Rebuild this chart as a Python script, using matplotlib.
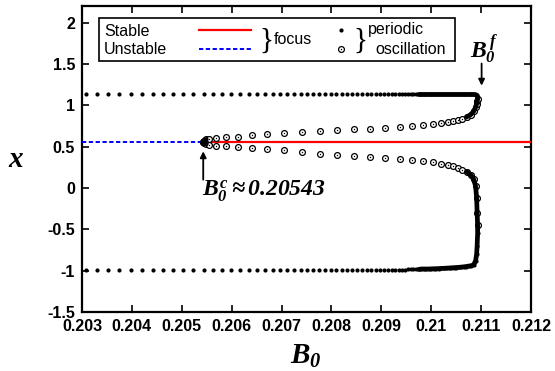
import matplotlib
matplotlib.use('Agg')
import matplotlib.pyplot as plt
from matplotlib.patches import Rectangle

plt.rcParams['font.family'] = ['Liberation Sans', 'DejaVu Sans']
plt.rcParams['mathtext.fontset'] = 'custom'
plt.rcParams['mathtext.rm'] = 'Liberation Serif:bold:italic'
plt.rcParams['mathtext.it'] = 'Liberation Serif:bold:italic'
plt.rcParams['mathtext.bf'] = 'Liberation Serif:bold:italic'

# ---------------- data ----------------
# equilibrium (focus)
B0_hopf = 0.20543
B0_fold = 0.21101
x_eq = 0.558
eq_unstable_B0 = [0.203, 0.20543]
eq_stable_B0 = [0.20543, 0.212]

# stable periodic oscillation (max and min of x)
B0_s = [0.20308, 0.20331, 0.20353, 0.20375, 0.20398, 0.20420, 0.20442, 0.20462,
        0.20483, 0.20503, 0.20523, 0.20544, 0.20562, 0.20581, 0.20599, 0.20617,
        0.20634, 0.20651, 0.20666, 0.20682, 0.20696, 0.20711, 0.20724, 0.20738,
        0.20751, 0.20763, 0.20776, 0.20788, 0.20799, 0.20810, 0.20821, 0.20832,
        0.20842, 0.20852, 0.20862, 0.20872, 0.20880, 0.20890, 0.20898, 0.20906,
        0.20914, 0.20921, 0.20928, 0.20935, 0.20941, 0.20947, 0.20953, 0.20959,
        0.20964, 0.20970, 0.20975, 0.20980, 0.20985, 0.20990, 0.20995, 0.21000,
        0.21005, 0.21010, 0.21015, 0.21020, 0.21025, 0.21030, 0.21035, 0.21040,
        0.21045, 0.21050, 0.21055, 0.21060, 0.21065, 0.21070, 0.21075, 0.21080,
        0.21085, 0.21089, 0.21091, 0.21092, 0.21093]
xmax_s = [1.13, 1.13, 1.13, 1.13, 1.13, 1.13, 1.13, 1.13,
          1.13, 1.13, 1.13, 1.13, 1.13, 1.13, 1.13, 1.13,
          1.13, 1.13, 1.13, 1.13, 1.13, 1.13, 1.13, 1.13,
          1.13, 1.13, 1.13, 1.13, 1.13, 1.13, 1.13, 1.13,
          1.13, 1.13, 1.13, 1.13, 1.13, 1.13, 1.13, 1.13,
          1.13, 1.13, 1.13, 1.13, 1.13, 1.13, 1.13, 1.13,
          1.13, 1.13, 1.13, 1.13, 1.13, 1.13, 1.13, 1.13,
          1.13, 1.13, 1.13, 1.13, 1.13, 1.13, 1.13, 1.13,
          1.13, 1.13, 1.13, 1.13, 1.13, 1.13, 1.13, 1.13,
          1.13, 1.128, 1.122, 1.11, 1.09]
xmin_s = [-0.99, -0.99, -0.99, -0.99, -0.99, -0.99, -0.99, -0.99,
          -0.99, -0.99, -0.99, -0.99, -0.99, -0.99, -0.99, -0.99,
          -0.99, -0.99, -0.99, -0.99, -0.99, -0.99, -0.99, -0.99,
          -0.99, -0.99, -0.99, -0.99, -0.99, -0.99, -0.99, -0.99,
          -0.99, -0.99, -0.99, -0.99, -0.99, -0.99, -0.99, -0.99,
          -0.99, -0.99, -0.99, -0.99, -0.99, -0.99, -0.985, -0.985,
          -0.985, -0.985, -0.985, -0.98, -0.98, -0.98, -0.98, -0.978,
          -0.977, -0.976, -0.975, -0.973, -0.972, -0.97, -0.968, -0.966,
          -0.964, -0.962, -0.96, -0.957, -0.954, -0.95, -0.945, -0.94,
          -0.93, -0.88, -0.80, -0.70, -0.55]

# unstable periodic oscillation (max and min of x)
B0_u = [0.20543, 0.20544, 0.20546, 0.20549, 0.20555, 0.20568, 0.20589, 0.20613,
        0.20641, 0.20671, 0.20704, 0.20740, 0.20778, 0.20811, 0.20845, 0.20878,
        0.20908, 0.20937, 0.20962, 0.20984, 0.21004, 0.21020, 0.21034, 0.21044,
        0.21054, 0.21062, 0.21071, 0.21079, 0.21085, 0.21089, 0.21091, 0.21092,
        0.21093]
xmax_u = [0.558, 0.570, 0.578, 0.586, 0.595, 0.604, 0.613, 0.622,
          0.636, 0.649, 0.665, 0.680, 0.693, 0.703, 0.710, 0.716,
          0.726, 0.735, 0.746, 0.758, 0.773, 0.786, 0.798, 0.808,
          0.822, 0.838, 0.858, 0.886, 0.925, 0.975, 1.02, 1.05,
          1.07]
xmin_u = [0.558, 0.546, 0.538, 0.530, 0.521, 0.512, 0.503, 0.493,
          0.482, 0.470, 0.455, 0.437, 0.415, 0.398, 0.385, 0.376,
          0.366, 0.352, 0.336, 0.322, 0.309, 0.294, 0.278, 0.262,
          0.243, 0.222, 0.195, 0.160, 0.105, 0.02, -0.12, -0.30,
          -0.45]

xtick_vals = [0.203, 0.204, 0.205, 0.206, 0.207, 0.208, 0.209, 0.210, 0.211, 0.212]
xtick_labels = ['0.203', '0.204', '0.205', '0.206', '0.207', '0.208', '0.209', '0.21', '0.211', '0.212']
ytick_vals = [-1.5, -1, -0.5, 0, 0.5, 1, 1.5, 2]
ytick_labels = ['-1.5', '-1', '-0.5', '0', '0.5', '1', '1.5', '2']

# ---------------- figure ----------------
fig = plt.figure(figsize=(5.55, 3.71), dpi=100)
ax = fig.add_axes([82/555, 1-312/371, 449/555, 306/371])
ax.set_xlim(0.203, 0.212)
ax.set_ylim(-1.5, 2.2)
ax.set_xticks(xtick_vals)
ax.set_xticklabels(xtick_labels, fontweight='bold', fontsize=11.5)
ax.set_yticks(ytick_vals)
ax.set_yticklabels(ytick_labels, fontweight='bold', fontsize=11.5)
ax.tick_params(direction='in', length=5, width=1.2, top=True, right=True, pad=5)
for sp in ax.spines.values():
    sp.set_linewidth(1.6)

# equilibrium lines
ax.plot(eq_unstable_B0, [x_eq, x_eq], color='blue', ls=(0, (2.2, 1.3)), lw=1.4, zorder=3)
ax.plot(eq_stable_B0, [x_eq, x_eq], color='red', lw=1.6, zorder=3)

# stable periodic: filled dots
ax.plot(B0_s, xmax_s, 'o', color='black', ms=3.0, mew=0, zorder=5)
ax.plot(B0_s, xmin_s, 'o', color='black', ms=3.0, mew=0, zorder=5)

# unstable periodic: open circles with centre dot
for ys in (xmax_u, xmin_u):
    ax.plot(B0_u, ys, 'o', mfc='white', mec='black', ms=4.2, mew=0.9, zorder=5)
    ax.plot(B0_u, ys, 'o', color='black', ms=1.0, mew=0, zorder=6)

# dense (merged) parts near the fold drawn as thick path through the data points
n_dense_s = 50
n_dense_u = 26
up_path_x = B0_s[n_dense_s:] + B0_u[n_dense_u:][::-1]
up_path_y = xmax_s[n_dense_s:] + xmax_u[n_dense_u:][::-1]
lo_path_x = B0_s[n_dense_s:] + B0_u[n_dense_u:][::-1]
lo_path_y = xmin_s[n_dense_s:] + xmin_u[n_dense_u:][::-1]
for px_, py_ in ((up_path_x, up_path_y), (lo_path_x, lo_path_y)):
    ax.plot(px_, py_, color='black', lw=3.4, solid_capstyle='round',
            solid_joinstyle='round', zorder=7)

# overlapping circles right at the Hopf point merge into a blob
n_hopf = 4
hopf_x = B0_u[:n_hopf][::-1] + B0_u[1:n_hopf]
hopf_y = xmax_u[:n_hopf][::-1] + xmin_u[1:n_hopf]
ax.plot(hopf_x, hopf_y, color='black', lw=3.5, solid_capstyle='round', zorder=7)

# annotations
ax.annotate('', xy=(B0_hopf, 0.443), xytext=(B0_hopf, 0.10),
            arrowprops=dict(arrowstyle='-|>', lw=1.3, color='black', mutation_scale=9,
                            shrinkA=0, shrinkB=0), zorder=8)
ax.text(0.205404, -0.10, r'$B_0^c \approx 0.20543$', fontsize=17, ha='left',
        va='baseline', zorder=8)
ax.annotate('', xy=(B0_fold, 1.237), xytext=(B0_fold, 1.504),
            arrowprops=dict(arrowstyle='-|>', lw=1.3, color='black', mutation_scale=9,
                            shrinkA=0, shrinkB=0), zorder=8)
ax.text(0.21077, 1.576, r'$B_0^{\,f}$', fontsize=17, ha='left', va='baseline', zorder=8)

# axis labels
ax.text(0.499, -0.168, r'$B_0$', fontsize=21, ha='center', va='baseline',
        transform=ax.transAxes)
ax.text(-0.146, 0.5, r'$x$', fontsize=21, ha='center', va='center',
        transform=ax.transAxes)

# legend (manual)
T = ax.transAxes
ax.add_patch(Rectangle((0.0385, 0.820), 0.831-0.0385, 0.961-0.820, transform=T,
                       fill=True, facecolor='white', edgecolor='black', lw=1.2, zorder=9))
ax.text(0.049, 0.918, 'Stable', transform=T, fontsize=11.5, va='center', ha='left', zorder=10)
ax.text(0.049, 0.858, 'Unstable', transform=T, fontsize=11.5, va='center', ha='left', zorder=10)
ax.plot([0.261, 0.376], [0.922, 0.922], transform=T, color='red', lw=1.6, zorder=10)
ax.plot([0.261, 0.376], [0.858, 0.858], transform=T, color='blue', lw=1.4,
        ls=(0, (2.2, 1.3)), zorder=10)
ax.text(0.394, 0.886, '}', transform=T, fontsize=21, va='center', ha='left',
        family='Liberation Serif', zorder=10)
ax.text(0.428, 0.891, 'focus', transform=T, fontsize=11.5, va='center', ha='left', zorder=10)
ax.plot([0.577], [0.922], 'o', transform=T, color='black', ms=3.0, mew=0, zorder=10)
ax.plot([0.577], [0.860], 'o', transform=T, mfc='white', mec='black', ms=4.2, mew=0.9, zorder=10)
ax.plot([0.577], [0.860], 'o', transform=T, color='black', ms=1.0, mew=0, zorder=11)
ax.text(0.604, 0.886, '}', transform=T, fontsize=21, va='center', ha='left',
        family='Liberation Serif', zorder=10)
ax.text(0.637, 0.922, 'periodic', transform=T, fontsize=11.5, va='center', ha='left', zorder=10)
ax.text(0.653, 0.858, 'oscillation', transform=T, fontsize=11.5, va='center', ha='left', zorder=10)

fig.savefig('out.png', dpi=100)
